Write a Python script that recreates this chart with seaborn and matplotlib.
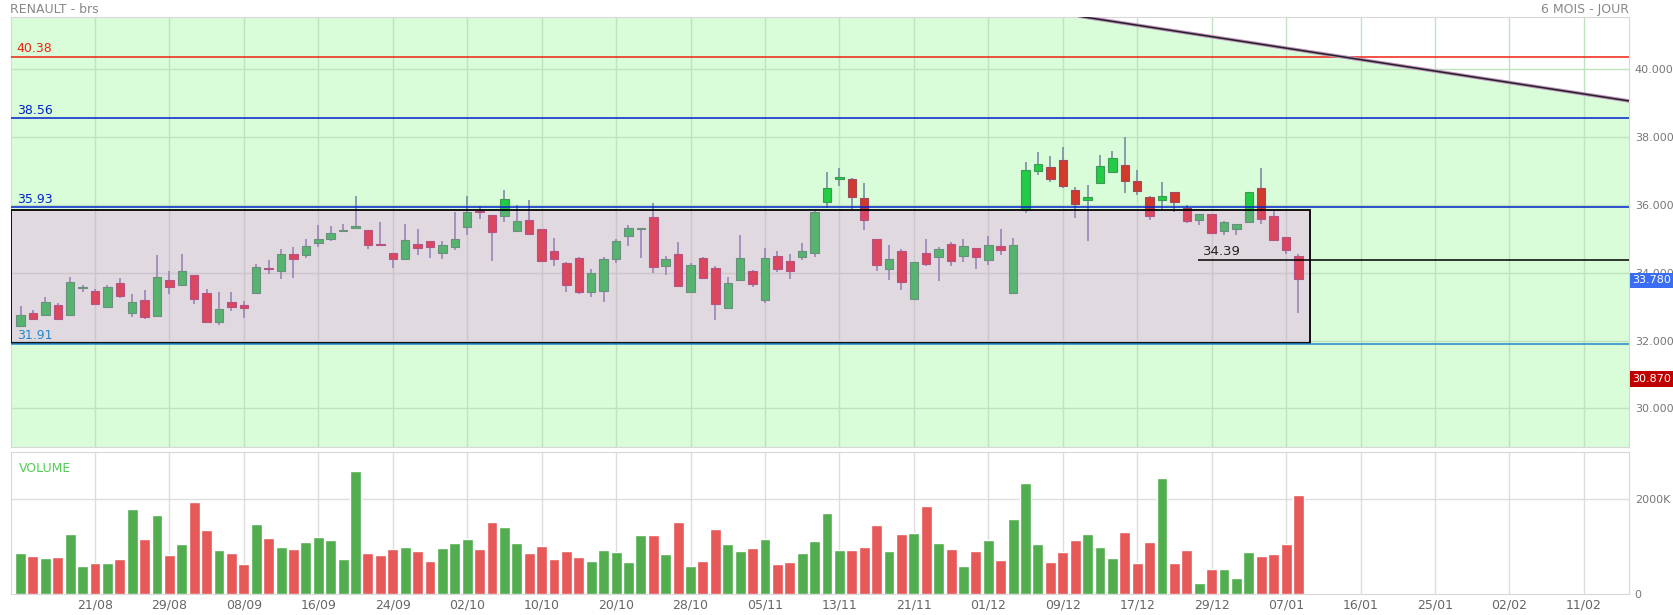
import numpy as np
import pandas as pd
import matplotlib
matplotlib.use('Agg')
import matplotlib.pyplot as plt
import seaborn as sns
from matplotlib.patches import Rectangle

sns.set_style('white')
plt.rcParams['font.family'] = ['DejaVu Sans']

# ---- données (séance par séance) ----
opens = [32.44, 32.81, 32.77, 33.05, 32.77, 33.56, 33.45, 33.00, 33.69, 32.82,
         33.19, 32.74, 33.78, 33.65, 33.93, 33.42, 32.56, 33.13, 33.04, 33.41,
         34.13, 34.06, 34.57, 34.54, 34.89, 35.00, 35.24, 35.31, 35.25, 34.82,
         34.58, 34.41, 34.84, 34.93, 34.59, 34.75, 35.36, 35.82, 35.72, 35.69,
         35.24, 35.55, 35.28, 34.64, 34.30, 34.45, 33.44, 33.47, 34.40, 35.09,
         35.28, 35.66, 34.21, 34.56, 33.44, 34.45, 34.15, 32.96, 33.80, 34.04,
         33.21, 34.51, 34.36, 34.47, 34.60, 36.10, 36.78, 36.76, 36.22, 35.01,
         34.12, 34.63, 33.23, 34.60, 34.48, 34.84, 34.50, 34.73, 34.39, 34.78,
         33.42, 35.85, 37.01, 37.11, 37.34, 36.43, 36.15, 36.64, 36.98, 37.17,
         36.72, 36.25, 36.15, 36.37, 35.91, 35.57, 35.75, 35.24, 35.30, 35.49,
         36.49, 35.69, 35.07, 34.51]
closes = [32.77, 32.65, 33.14, 32.65, 33.72, 33.56, 33.09, 33.57, 33.33, 33.13,
          32.71, 33.89, 33.59, 34.04, 33.24, 32.56, 32.93, 33.00, 32.97, 34.16,
          34.10, 34.57, 34.40, 34.78, 34.99, 35.17, 35.27, 35.37, 34.83, 34.81,
          34.40, 34.96, 34.74, 34.75, 34.81, 35.01, 35.78, 35.78, 35.21, 36.17,
          35.52, 35.16, 34.34, 34.40, 33.65, 33.44, 34.01, 34.40, 34.95, 35.33,
          35.30, 34.17, 34.40, 33.62, 34.22, 33.85, 33.09, 33.71, 34.45, 33.67,
          34.45, 34.12, 34.04, 34.63, 35.78, 36.49, 36.84, 36.25, 35.57, 34.22,
          34.42, 33.73, 34.33, 34.27, 34.71, 34.36, 34.78, 34.48, 34.81, 34.66,
          34.81, 37.03, 37.21, 36.78, 36.55, 36.02, 36.25, 37.14, 37.40, 36.70,
          36.40, 35.69, 36.28, 36.08, 35.54, 35.75, 35.19, 35.49, 35.43, 36.37,
          35.60, 34.98, 34.68, 33.81]
highs = [33.01, 32.89, 33.29, 33.10, 33.87, 33.63, 33.53, 33.63, 33.84, 33.39,
         33.50, 34.52, 34.04, 34.55, 33.93, 33.53, 33.44, 33.44, 33.16, 34.25,
         34.38, 34.70, 34.75, 34.99, 35.41, 35.39, 35.44, 36.27, 35.27, 35.49,
         34.58, 35.45, 35.29, 34.93, 34.94, 35.80, 36.27, 35.97, 35.72, 36.44,
         36.00, 36.15, 35.28, 35.03, 34.33, 34.47, 34.12, 34.47, 35.01, 35.41,
         35.31, 36.05, 34.51, 34.90, 34.30, 34.47, 34.21, 33.87, 35.11, 34.08,
         34.72, 34.63, 34.56, 34.87, 35.82, 36.96, 37.09, 36.81, 36.64, 35.01,
         34.82, 34.70, 34.33, 35.01, 34.75, 34.92, 34.99, 34.73, 35.08, 35.29,
         35.02, 37.27, 37.56, 37.44, 37.70, 36.52, 36.58, 37.49, 37.58, 38.00,
         37.02, 36.28, 36.67, 36.37, 36.00, 35.75, 35.75, 35.53, 35.43, 36.37,
         37.10, 35.83, 35.07, 34.55]
lows = [32.39, 32.64, 32.75, 32.65, 32.75, 33.44, 33.07, 32.95, 33.25, 32.69,
        32.65, 32.72, 33.37, 33.62, 33.09, 32.56, 32.46, 32.86, 32.66, 33.39,
        33.96, 33.82, 33.86, 34.45, 34.75, 34.94, 35.22, 35.31, 34.70, 34.81,
        34.14, 34.41, 34.52, 34.44, 34.42, 34.66, 35.13, 35.59, 34.36, 35.50,
        35.22, 35.16, 34.34, 34.19, 33.44, 33.38, 33.30, 33.14, 34.29, 34.79,
        34.43, 34.00, 33.94, 33.60, 33.44, 33.82, 32.60, 32.96, 33.80, 33.58,
        33.11, 34.03, 33.82, 34.38, 34.47, 35.91, 36.56, 35.88, 35.27, 34.06,
        33.79, 33.50, 33.21, 34.19, 33.76, 34.21, 34.33, 34.12, 34.24, 34.53,
        33.42, 35.77, 36.88, 36.69, 36.49, 35.62, 34.95, 36.64, 36.98, 36.36,
        36.30, 35.57, 35.85, 35.78, 35.48, 35.42, 35.19, 35.12, 35.12, 35.49,
        35.45, 34.95, 34.55, 32.82]
volumes = [877, 800, 765, 793, 1263, 597, 653, 653, 737, 1797,
           1165, 1677, 821, 1053, 1944, 1347, 933, 877, 625, 1488,
           1186, 997, 961, 1109, 1214, 1151, 737, 2604, 863, 821,
           954, 997, 912, 709, 968, 1088, 1158, 947, 1516, 1411,
           1081, 877, 1025, 751, 919, 779, 695, 933, 898, 681,
           1242, 1249, 849, 1523, 597, 702, 1369, 1053, 912, 975,
           1158, 625, 674, 870, 1116, 1705, 926, 933, 997, 1467,
           912, 1270, 1284, 1867, 1074, 954, 590, 905, 1137, 723,
           1593, 2344, 1060, 674, 898, 1137, 1277, 990, 772, 1319,
           653, 1095, 2456, 653, 940, 232, 533, 533, 337, 884,
           800, 842, 1053, 2098]

date_labels = ['21/08', '29/08', '08/09', '16/09', '24/09', '02/10', '10/10', '20/10',
               '28/10', '05/11', '13/11', '21/11', '01/12', '09/12', '17/12', '29/12',
               '07/01', '16/01', '25/01', '02/02', '11/02']
date_pos = list(range(6, 127, 6))

levels = [40.38, 38.56, 35.93, 31.91]
level_colors = ['#ee2211', '#0022cc', '#0022cc', '#2288cc']
box_low, box_high, box_end = 31.92, 35.85, 103.9
support = 34.39
trend_x = [85.3, 129.65]
trend_y = [41.57, 39.07]

df = pd.DataFrame({'open': opens, 'close': closes, 'high': highs, 'low': lows, 'volume': volumes})
df['idx'] = np.arange(len(df))
df['sens'] = np.where(df['close'] >= df['open'], 'hausse', 'baisse')

fig = plt.figure(figsize=(16.74, 6.15), dpi=100)
ax = fig.add_axes([0.0064, 0.273, 0.9668, 0.699])
axv = fig.add_axes([0.0064, 0.034, 0.9668, 0.2315])

xmin, xmax = -0.79, 129.65
ymin, ymax = 28.86, 41.54

# ---- panneau des cours ----
ax.set_facecolor('#d9fdd9')
ax.fill_between(trend_x, trend_y, ymax, color='white', zorder=1)
for p in date_pos:
    ax.axvline(p, color='#bfe3bf', lw=1, zorder=1)
for v in range(30, 41, 2):
    ax.axhline(v, color='#bfe3bf', lw=1, zorder=1)

wick_col = '#7d8ca3'
ax.vlines(df['idx'], df['low'], df['high'], color=wick_col, lw=1.2, zorder=3)
up = df[df['sens'] == 'hausse']
dn = df[df['sens'] == 'baisse']
ax.bar(up['idx'], (up['close'] - up['open']).clip(lower=0.03), bottom=up['open'], width=0.68,
       color='#22cc44', edgecolor='#3c9a55', lw=0.8, zorder=4)
ax.bar(dn['idx'], (dn['open'] - dn['close']).clip(lower=0.03), bottom=dn['close'], width=0.68,
       color='#d23a2c', edgecolor='#a04a60', lw=0.8, zorder=4)

# rectangle de consolidation (voile violet)
ax.add_patch(Rectangle((xmin, box_low), box_end - xmin, box_high - box_low,
                       facecolor=(0.96, 0.44, 0.96, 0.25), edgecolor='none', zorder=5))
ax.add_patch(Rectangle((xmin, box_low), box_end - xmin, box_high - box_low,
                       facecolor='none', edgecolor='black', lw=1.3, zorder=6))

for lv, c in zip(levels, level_colors):
    ax.axhline(lv, color=c, lw=1.1, zorder=6)
    ax.text(-0.3, lv + 0.05, f'{lv:.2f}', color=c, fontsize=9, va='bottom', ha='left', zorder=7)
ax.hlines(support, 94.9, xmax, color='black', lw=1.1, zorder=6)
ax.text(95.3, support + 0.05, f'{support:.2f}', color='#222222', fontsize=9.5, va='bottom', zorder=7)
ax.plot(trend_x, trend_y, color='#c090c0', lw=2.6, zorder=6)
ax.plot(trend_x, trend_y, color='#222222', lw=1.1, zorder=7)

ax.set_xlim(xmin, xmax)
ax.set_ylim(ymin, ymax)
ax.set_xticks([])
ax.yaxis.tick_right()
ax.set_yticks(range(30, 41, 2))
ax.set_yticklabels([f'{v:.3f}' for v in range(30, 41, 2)], color='#777777', fontsize=8)
ax.tick_params(axis='y', length=0, pad=4)
for s in ax.spines.values():
    s.set_color('#d8d8d8')

ax.text(1.002, 33.78, '33.780', transform=ax.get_yaxis_transform(), color='white', fontsize=8,
        va='center', ha='left', bbox=dict(boxstyle='square,pad=0.25', fc='#3a6cf4', ec='none'), zorder=8)
ax.text(1.002, 30.87, '30.870', transform=ax.get_yaxis_transform(), color='white', fontsize=8,
        va='center', ha='left', bbox=dict(boxstyle='square,pad=0.25', fc='#c00000', ec='none'), zorder=8)

fig.text(0.006, 0.985, 'RENAULT - brs', color='#888888', fontsize=9, va='center')
fig.text(0.973, 0.985, '6 MOIS - JOUR', color='#888888', fontsize=9, va='center', ha='right')

# ---- panneau des volumes ----
axv.set_facecolor('white')
sns.barplot(data=df, x='idx', y='volume', hue='sens', palette={'hausse': '#42bd3e', 'baisse': '#ff4040'},
            native_scale=True, width=0.88, dodge=False, legend=False, ax=axv, zorder=3)
for p in date_pos:
    axv.axvline(p, color='#dddddd', lw=1, zorder=1)
axv.axhline(2000, color='#dddddd', lw=1, zorder=1)
axv.set_xlim(xmin, xmax)
axv.set_ylim(0, 3006)
axv.set_xlabel('')
axv.set_ylabel('')
axv.set_xticks(date_pos)
axv.set_xticklabels(date_labels, color='#666666', fontsize=9)
axv.tick_params(axis='x', length=0, pad=3)
axv.yaxis.tick_right()
axv.set_yticks([0, 2000])
axv.set_yticklabels(['0', '2000K'], color='#777777', fontsize=8)
axv.tick_params(axis='y', length=0, pad=4)
for s in axv.spines.values():
    s.set_color('#d8d8d8')
axv.text(0.005, 0.93, 'VOLUME', transform=axv.transAxes, color='#55cc55', fontsize=9, va='top')

fig.savefig('out.png', dpi=100)
